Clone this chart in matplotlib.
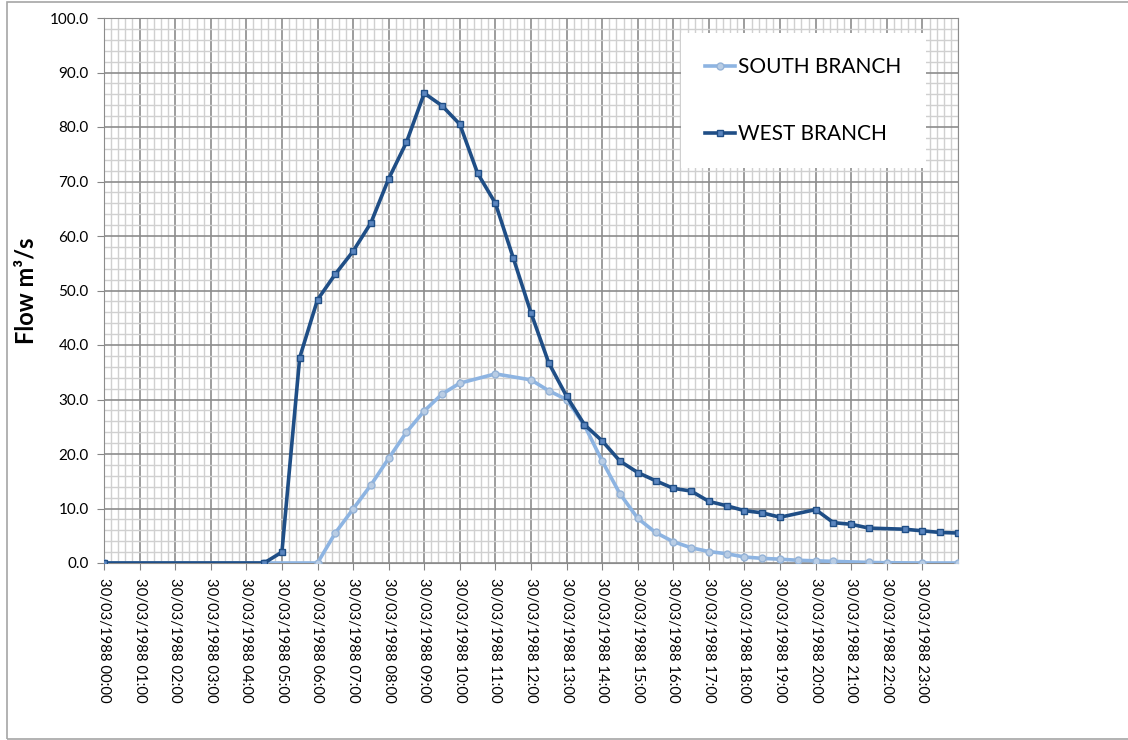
import matplotlib.pyplot as plt
from matplotlib.ticker import MultipleLocator, FormatStrFormatter
from matplotlib.patches import Rectangle

plt.rcParams['font.family'] = ['Lato', 'DejaVu Sans']

# hours after 30/03/1988 00:00
west_t = [0, 4.5, 5, 5.5, 6, 6.5, 7, 7.5, 8, 8.5, 9, 9.5, 10, 10.5, 11, 11.5, 12, 12.5,
          13, 13.5, 14, 14.5, 15, 15.5, 16, 16.5, 17, 17.5, 18, 18.5, 19, 20, 20.5, 21,
          21.5, 22.5, 23, 23.5, 24]
west_q = [0, 0, 2.0, 37.7, 48.3, 53.0, 57.2, 62.4, 70.5, 77.2, 86.2, 83.9, 80.5, 71.5,
          66.0, 56.0, 45.9, 36.7, 30.6, 25.4, 22.4, 18.7, 16.6, 15.1, 13.7, 13.2, 11.3,
          10.5, 9.6, 9.2, 8.4, 9.8, 7.4, 7.1, 6.4, 6.2, 5.9, 5.6, 5.5]

south_t = [0, 4.5, 6, 6.5, 7, 7.5, 8, 8.5, 9, 9.5, 10, 11, 12, 12.5, 13, 13.5, 14, 14.5,
           15, 15.5, 16, 16.5, 17, 17.5, 18, 18.5, 19, 19.5, 20, 20.5, 21.5, 22, 23, 24]
south_q = [0, 0, 0, 5.5, 9.9, 14.3, 19.2, 24.0, 27.9, 31.0, 33.0, 34.7, 33.6, 31.6, 30.0,
           25.3, 18.7, 12.7, 8.2, 5.6, 3.9, 2.8, 2.1, 1.7, 1.1, 0.85, 0.7, 0.5, 0.4, 0.3,
           0.1, 0.05, 0, 0]

hours = list(range(24))
tick_labels = ['30/03/1988 %02d:00' % h for h in hours]

fig = plt.figure(figsize=(11.28, 7.4), dpi=100)
ax = fig.add_axes([104 / 1128, 1 - 563 / 740, (958 - 104) / 1128, (563 - 18) / 740])

# outer chart border
fig.patches.append(Rectangle((7 / 1128, 1 - 739 / 740), 1.2, (739 - 2) / 740,
                             transform=fig.transFigure, fill=False,
                             edgecolor='#a6a6a6', linewidth=1.2, clip_on=False))

ax.plot(south_t, south_q, color='#8DB4E2', linewidth=2.6, marker='o', markersize=5,
        markerfacecolor='#B9CDE5', markeredgecolor='#95B3D7', label='SOUTH BRANCH', zorder=3)
ax.plot(west_t, west_q, color='#1F4E86', linewidth=2.6, marker='s', markersize=5,
        markerfacecolor='#5B86C0', markeredgecolor='#1F4E86', label='WEST BRANCH', zorder=4)

ax.set_xlim(0, 24)
ax.set_ylim(0, 100)
ax.set_xticks(hours)
ax.set_xticklabels(tick_labels, rotation=270, fontsize=10.7)
ax.xaxis.set_minor_locator(MultipleLocator(0.2))
ax.yaxis.set_major_locator(MultipleLocator(10))
ax.yaxis.set_minor_locator(MultipleLocator(2))
ax.yaxis.set_major_formatter(FormatStrFormatter('%.1f'))
ax.tick_params(axis='y', labelsize=11, length=5, color='#868686', pad=6)
ax.tick_params(axis='x', length=5, color='#868686', pad=6)
ax.tick_params(which='minor', length=0)

ax.grid(which='minor', color='#d0d0d0', linewidth=1.0)
ax.grid(which='major', color='#8c8c8c', linewidth=1.2)
ax.set_axisbelow(True)
for s in ax.spines.values():
    s.set_color('#8c8c8c')

ax.set_ylabel('Flow m³/s', fontsize=17, fontweight='bold')
ax.yaxis.set_label_coords(-0.078, 0.5)

leg = ax.legend(loc='upper left', bbox_to_anchor=(681 / 1128, 1 - 33 / 740),
                bbox_transform=fig.transFigure, fontsize=15, frameon=True,
                fancybox=False, edgecolor='white', framealpha=1, handlelength=1.45,
                handletextpad=0.15, labelspacing=2.25, borderpad=1.15, borderaxespad=0)
leg.get_frame().set_linewidth(0)

plt.savefig('out.png', dpi=100)
